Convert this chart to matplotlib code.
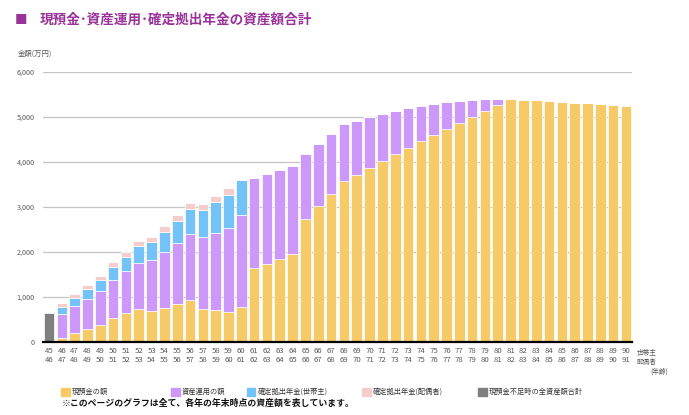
import matplotlib
matplotlib.use("Agg")
import matplotlib.pyplot as plt
import numpy as np
from matplotlib.patches import Rectangle

plt.rcParams["font.family"] = ["Noto Sans CJK JP", "DejaVu Sans"]

# ages (head of household / spouse)
head_age = list(range(45, 91))
spouse_age = list(range(46, 92))

# 現預金の額 (万円)
cash = [0, 95, 193, 281, 370, 541, 637, 733, 689, 763, 844, 933, 730, 704, 674, 785,
        1637, 1741, 1837, 1948, 2733, 3015, 3296, 3570, 3718, 3874, 4015, 4170, 4311,
        4459, 4593, 4726, 4859, 4995, 5135, 5265, 5392, 5378, 5370, 5356, 5340, 5318,
        5303, 5285, 5266, 5245]
# 資産運用の額
invest = [0, 535, 600, 675, 756, 844, 933, 1030, 1126, 1244, 1349, 1467, 1595, 1726,
          1867, 2030, 2007, 1992, 1985, 1956, 1445, 1385, 1322, 1267, 1200, 1126, 1059,
          971, 889, 793, 703, 607, 504, 387, 265, 135, 0, 0, 0, 0, 0, 0, 0, 0, 0, 0]
# 確定拠出年金(世帯主)
dc_head = [0, 155, 192, 222, 252, 282, 319, 370, 407, 445, 503, 556, 605, 674, 726, 785] + [0] * 30
# 確定拠出年金(配偶者)
dc_spouse = [0, 80, 82, 89, 89, 103, 111, 104, 111, 118, 126, 125, 133, 133, 148, 0] + [0] * 30
# 現預金不足時の全資産額合計
shortfall = [645] + [0] * 45

labels = ["現預金の額", "資産運用の額", "確定拠出年金(世帯主)", "確定拠出年金(配偶者)",
          "現預金不足時の全資産額合計"]
colors = ["#F6CA67", "#CC99FA", "#73C3F8", "#F6CDCD", "#7F7F7F"]

W, H = 689, 415


def fx(x):
    return x / W


def fy(y):
    return 1 - y / H


fig = plt.figure(figsize=(W / 100, H / 100), dpi=100)
ax = fig.add_axes([fx(43), fy(342), fx(632) - fx(43), fy(72) - fy(342)])

x = np.arange(len(head_age))
series = [cash, invest, dc_head, dc_spouse, shortfall]
bottom = np.zeros(len(x))
for vals, c in zip(series, colors):
    vals = np.array(vals, dtype=float)
    ax.bar(x, vals, bottom=bottom, width=0.83, color=c, edgecolor="#FFFFFF",
           linewidth=0.5, zorder=3)
    bottom += vals

ax.set_xlim(-0.47, len(x) - 0.53)
ax.set_ylim(0, 6000)
ax.set_yticks(np.arange(0, 6001, 1000))
ax.set_yticklabels([f"{v:,}" for v in range(0, 6001, 1000)])
ax.grid(axis="y", color="#C4C4C4", linewidth=0.9, zorder=0)
ax.set_xticks(x)
ax.set_xticklabels([f"{a}\n{b}" for a, b in zip(head_age, spouse_age)], linespacing=1.25)
ax.tick_params(axis="both", length=0, labelcolor="#595959")
ax.tick_params(axis="x", labelsize=5.6, pad=3.5)
ax.tick_params(axis="y", labelsize=5.2, pad=6)
for s in ["top", "right", "left"]:
    ax.spines[s].set_visible(False)
ax.spines["bottom"].set_color("#000000")
ax.spines["bottom"].set_linewidth(1.6)
ax.spines["bottom"].set_zorder(4)

purple = "#993399"
fig.text(fx(15), fy(20), "■", color=purple, fontsize=9, va="center", ha="left")
fig.text(fx(40), fy(20), "現預金･資産運用･確定拠出年金の資産額合計", color=purple,
         fontsize=9.8, weight="bold", va="center", ha="left")
fig.text(fx(18), fy(53.5), "金額(万円)", color="#595959", fontsize=5.3, va="center")

fig.text(fx(637), fy(352.5), "世帯主", color="#595959", fontsize=4.8, va="center")
fig.text(fx(637), fy(361.5), "配偶者", color="#595959", fontsize=4.8, va="center")
fig.text(fx(650), fy(371.5), "(年齢)", color="#595959", fontsize=4.8, va="center")

leg_x = [61, 171, 247, 362, 478]
for sx, lab, c in zip(leg_x, labels, colors):
    fig.patches.append(Rectangle((fx(sx), fy(396)), fx(8.5), 8.5 / H, color=c,
                                 transform=fig.transFigure, figure=fig))
    fig.text(fx(sx + 10.5), fy(391.5), lab, color="#333333", fontsize=5.2, va="center")

fig.text(fx(62), fy(403), "※このページのグラフは全て、各年の年末時点の資産額を表しています。",
         color="#111111", fontsize=6.4, va="center", weight="bold")

fig.savefig("out.png", dpi=100)
